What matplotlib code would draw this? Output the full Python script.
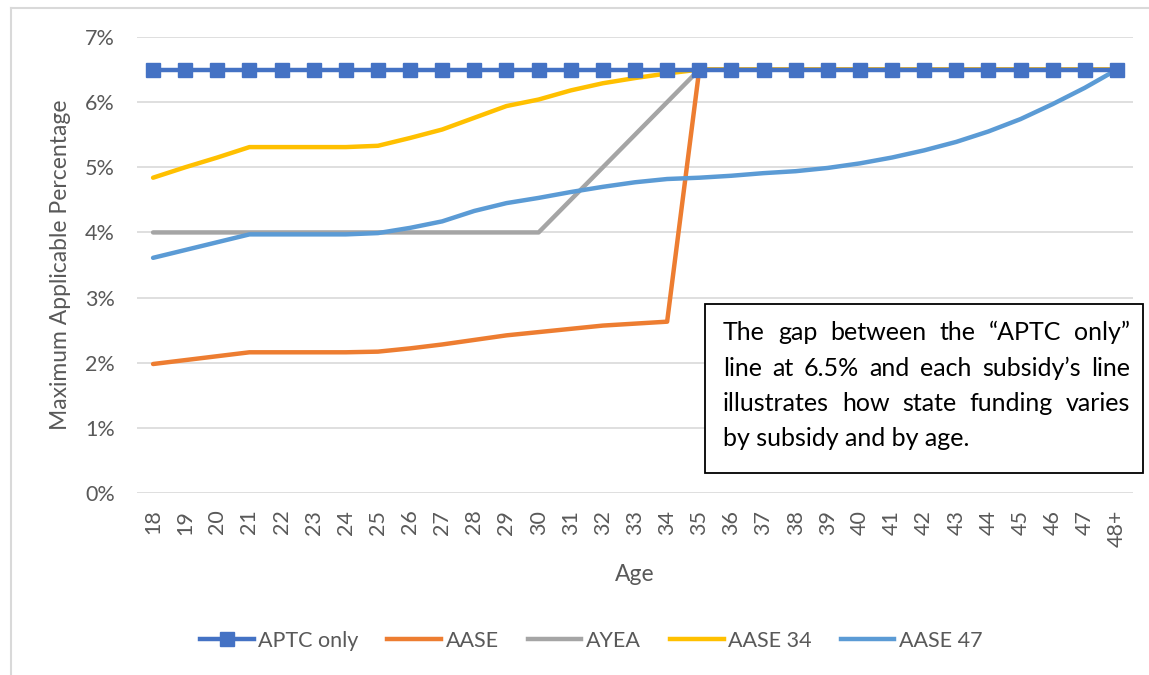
import matplotlib
matplotlib.use("Agg")
import matplotlib.pyplot as plt
from matplotlib.lines import Line2D
from matplotlib.patches import Rectangle
from matplotlib.ticker import FuncFormatter

plt.rcParams['font.family'] = ['Lato', 'DejaVu Sans']

ages = ["18", "19", "20", "21", "22", "23", "24", "25", "26", "27", "28", "29", "30",
        "31", "32", "33", "34", "35", "36", "37", "38", "39", "40", "41", "42", "43",
        "44", "45", "46", "47", "48+"]

aptc_only = [6.5] * 31
aase = [1.98, 2.04, 2.10, 2.16, 2.16, 2.16, 2.16, 2.17, 2.22, 2.28, 2.35, 2.42, 2.47,
        2.52, 2.57, 2.60, 2.63, 6.5, 6.5, 6.5, 6.5, 6.5, 6.5, 6.5, 6.5, 6.5,
        6.5, 6.5, 6.5, 6.5, 6.5]
ayea = [4.0, 4.0, 4.0, 4.0, 4.0, 4.0, 4.0, 4.0, 4.0, 4.0, 4.0, 4.0, 4.0,
        4.5, 5.0, 5.5, 6.0, 6.5, 6.5, 6.5, 6.5, 6.5, 6.5, 6.5, 6.5, 6.5,
        6.5, 6.5, 6.5, 6.5, 6.5]
aase34 = [4.84, 5.00, 5.15, 5.31, 5.31, 5.31, 5.31, 5.33, 5.45, 5.58, 5.76, 5.94, 6.04,
          6.18, 6.29, 6.37, 6.44, 6.5, 6.5, 6.5, 6.5, 6.5, 6.5, 6.5, 6.5, 6.5,
          6.5, 6.5, 6.5, 6.5, 6.5]
aase47 = [3.61, 3.73, 3.85, 3.97, 3.97, 3.97, 3.97, 3.99, 4.07, 4.17, 4.33, 4.45, 4.53,
          4.62, 4.70, 4.77, 4.82, 4.84, 4.87, 4.91, 4.94, 4.99, 5.06, 5.15, 5.26, 5.39,
          5.55, 5.74, 5.97, 6.22, 6.5]

y_ticks = [0, 1, 2, 3, 4, 5, 6, 7]

note_lines = ["The gap between the \u201cAPTC only\u201d",
              "line at 6.5% and each subsidy\u2019s line",
              "illustrates how state funding varies",
              "by subsidy and by age."]

W, H = 1149, 675
fig = plt.figure(figsize=(W / 100, H / 100), dpi=100)
ax = fig.add_axes([137 / W, 1 - 493 / H, (1133 - 137) / W, (493 - 37) / H])

x = list(range(len(ages)))
lw = 3.2
ax.plot(x, aase, color="#ED7D31", lw=lw, zorder=3, label="AASE", solid_capstyle="round")
ax.plot(x, ayea, color="#A5A5A5", lw=lw, zorder=3, label="AYEA", solid_capstyle="round")
ax.plot(x, aase34, color="#FFC000", lw=lw, zorder=3, label="AASE 34", solid_capstyle="round")
ax.plot(x, aase47, color="#5B9BD5", lw=lw, zorder=3, label="AASE 47", solid_capstyle="round")
ax.plot(x, aptc_only, color="#4472C4", lw=lw, marker="s", markersize=10, zorder=4,
        label="APTC only")

ax.set_xlim(-0.5, len(ages) - 0.5)
ax.set_ylim(0, 7)
ax.set_yticks(y_ticks)
ax.yaxis.set_major_formatter(FuncFormatter(lambda v, p: f"{v:.0f}%"))
ax.set_xticks(x)
ax.set_xticklabels(ages, rotation=90)
ax.grid(axis="y", color="#D9D9D9", lw=1.2, zorder=0)
ax.set_axisbelow(True)
for s in ax.spines.values():
    s.set_visible(False)
ax.tick_params(axis="both", length=0, colors="#595959", labelsize=15.5)
ax.tick_params(axis="y", pad=16)
ax.tick_params(axis="x", pad=12)
ax.set_xlabel("Age", fontsize=16.5, color="#595959", labelpad=12)
ax.set_ylabel("Maximum Applicable Percentage", fontsize=16.5, color="#595959", labelpad=10)

# Legend
handles = [Line2D([], [], color="#4472C4", lw=lw, marker="s", markersize=10),
           Line2D([], [], color="#ED7D31", lw=lw),
           Line2D([], [], color="#A5A5A5", lw=lw),
           Line2D([], [], color="#FFC000", lw=lw),
           Line2D([], [], color="#5B9BD5", lw=lw)]
labels = ["APTC only", "AASE", "AYEA", "AASE 34", "AASE 47"]
leg = fig.legend(handles, labels, loc="center", bbox_to_anchor=(591 / W, 1 - 641 / H),
                 ncol=5, frameon=False, fontsize=15.5, handlelength=2.5,
                 handletextpad=0.2, columnspacing=1.35, labelcolor="#595959")

# Outer chart border (top and left only visible)
fig.add_artist(Line2D([11 / W, 1], [1 - 8 / H, 1 - 8 / H], color="#D9D9D9", lw=1.5,
                      transform=fig.transFigure))
fig.add_artist(Line2D([11 / W, 11 / W], [0, 1 - 8 / H], color="#D9D9D9", lw=1.5,
                      transform=fig.transFigure))

# Note box
box = Rectangle((705 / W, 1 - 473 / H), (1143 - 705) / W, (473 - 304) / H,
                transform=fig.transFigure, facecolor="white", edgecolor="black",
                lw=1.3, zorder=10)
fig.add_artist(box)

renderer = fig.canvas.get_renderer()
left_px, right_px = 723, 1130
baselines = [340, 376, 411, 446]
note_fs = 18
for i, (line, base) in enumerate(zip(note_lines, baselines)):
    yfrac = 1 - base / H
    if i == len(note_lines) - 1:
        fig.text(left_px / W, yfrac, line, fontsize=note_fs, color="black",
                 ha="left", va="baseline", zorder=11)
        continue
    words = line.split(" ")
    widths = []
    for w in words:
        t = fig.text(0, 0, w, fontsize=note_fs)
        bb = t.get_window_extent(renderer)
        widths.append(bb.width)
        t.remove()
    gap = (right_px - left_px - sum(widths)) / (len(words) - 1)
    xp = left_px
    for w, wd in zip(words, widths):
        fig.text(xp / W, yfrac, w, fontsize=note_fs, color="black",
                 ha="left", va="baseline", zorder=11)
        xp += wd + gap

fig.savefig("out.png", dpi=100)
